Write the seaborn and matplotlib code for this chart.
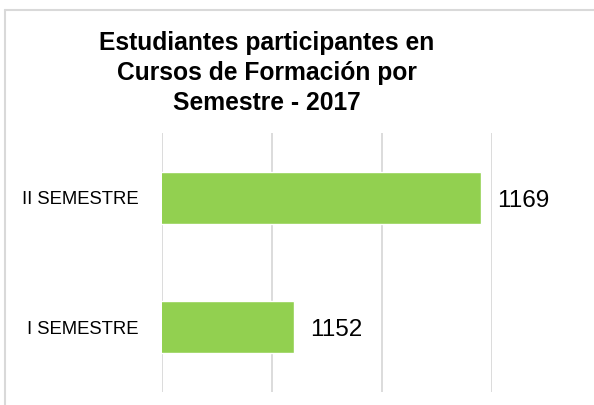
import matplotlib
matplotlib.use("Agg")
import matplotlib.pyplot as plt
from matplotlib.lines import Line2D
import pandas as pd
import seaborn as sns

semestres = ["II SEMESTRE", "I SEMESTRE"]
estudiantes = [1169, 1152]
titulo = "Estudiantes participantes en\nCursos de Formación por\nSemestre - 2017"

sns.set_style("white")
plt.rcParams['font.family'] = ['Liberation Sans', 'DejaVu Sans']
plt.rcParams['text.color'] = 'black'
plt.rcParams['ytick.color'] = 'black'

df = pd.DataFrame({'Semestre': semestres, 'Estudiantes': estudiantes})

fig = plt.figure(figsize=(5.94, 4.05), dpi=100)
ax = fig.add_axes([162/594, 1-392/405, (492-162)/594, (392-133)/405])

sns.barplot(data=df, x='Estudiantes', y='Semestre', order=semestres, orient='h',
            color='#92D050', saturation=1, width=0.4, ax=ax)

ax.set_xlim(1140, 1170)
ax.set_xticks([1140, 1150, 1160, 1170])
ax.set_xticklabels([])
ax.grid(visible=True, axis='x', color='#D9D9D9', lw=1.3)
ax.set_axisbelow(True)
for s in ax.spines.values():
    s.set_visible(False)
ax.tick_params(axis='both', length=0)
ax.tick_params(axis='y', pad=17, labelsize=13.3, labelcolor='black')
ax.set_xlabel("")
ax.set_ylabel("")

for i, v in enumerate(estudiantes):
    ax.annotate(str(v), xy=(v, i), xytext=(11.5, -2), textcoords='offset points',
                va='center', ha='left', fontsize=17.5, color='black',
                annotation_clip=False)

fig.text(267/594, 1-73/405, titulo, ha='center', va='center', fontsize=17.7,
         fontweight='bold', linespacing=1.32, color='black')

# borde del grafico
fig.add_artist(Line2D([5/594, 1], [1-10/405, 1-10/405], color='#D9D9D9', lw=1.5))
fig.add_artist(Line2D([5/594, 5/594], [0, 1-10/405], color='#D9D9D9', lw=1.5))

fig.savefig("out.png", dpi=100)
